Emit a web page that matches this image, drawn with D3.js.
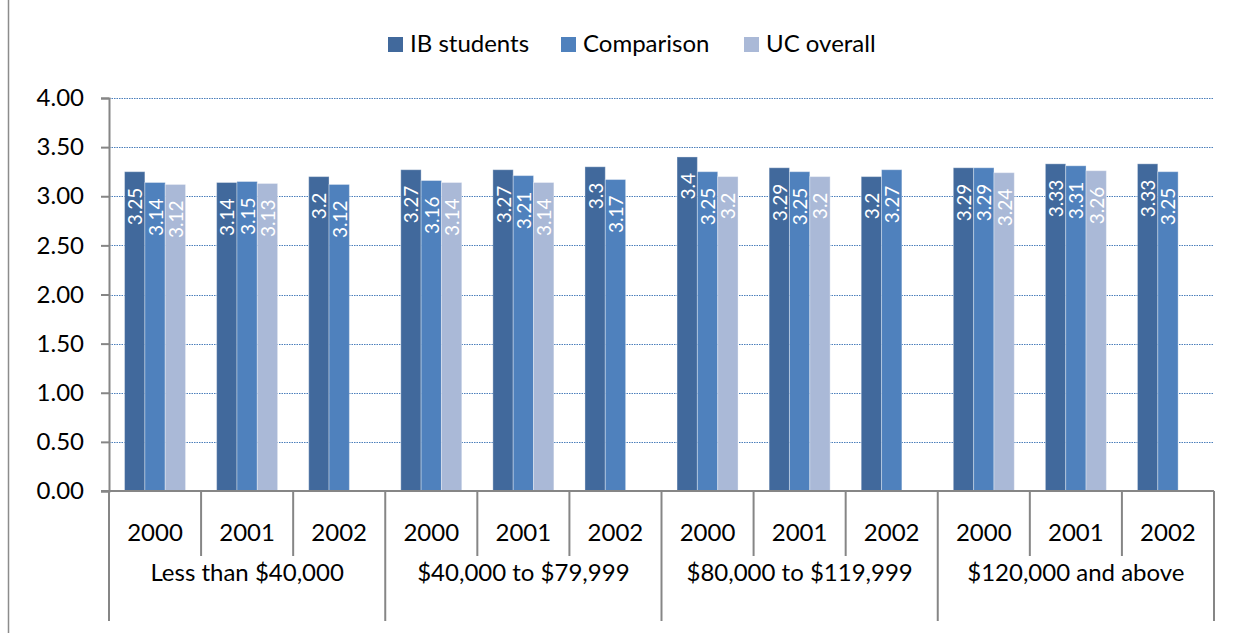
<!DOCTYPE html>
<html><head><meta charset="utf-8">
<script src="https://cdn.jsdelivr.net/npm/d3@7"></script>
<style>body{margin:0;background:#fff}svg{display:block}text{font-family:Lato,"Open Sans",sans-serif}</style>
</head><body>
<svg id="c" width="1241" height="633"></svg>
<script>
const groups = ["Less than $40,000", "$40,000 to $79,999", "$80,000 to $119,999", "$120,000 and above"];
const years = ["2000", "2001", "2002"];
const seriesNames = ["IB students", "Comparison", "UC overall"];
const ibValues = [3.25, 3.14, 3.2, 3.27, 3.27, 3.3, 3.4, 3.29, 3.2, 3.29, 3.33, 3.33];
const compValues = [3.14, 3.15, 3.12, 3.16, 3.21, 3.17, 3.25, 3.25, 3.27, 3.29, 3.31, 3.25];
const ucValues = [3.12, 3.13, null, 3.14, 3.14, null, 3.2, 3.2, null, 3.24, 3.26, null];
const yTicks = [0, 0.5, 1, 1.5, 2, 2.5, 3, 3.5, 4];
const colors = ["#41699c", "#4f81bd", "#aab9d7"];

const svg = d3.select("#c");
const pLeft = 109, pRight = 1214, pTop = 98, pBottom = 491;
const fs = 24;

const cats = [];
groups.forEach((g, gi) => years.forEach((yr, yi) => cats.push({g, gi, yr, i: gi * 3 + yi})));
const allSeries = [ibValues, compValues, ucValues];

const x = d3.scaleBand().domain(cats.map(c => c.i)).range([pLeft, pRight]).padding(0);
const xs = d3.scaleBand().domain(seriesNames).range([-30.5, 30.5]).padding(0);
const y = d3.scaleLinear().domain([0, 4]).range([pBottom, pTop]);

// frame left line
svg.append("line").attr("x1", 8.5).attr("x2", 8.5).attr("y1", 0).attr("y2", 633)
  .attr("stroke", "#8c8c8c").attr("stroke-width", 1.5);

// gridlines
svg.append("g").selectAll("line").data(yTicks.filter(t => t > 0)).join("line")
  .attr("x1", pLeft).attr("x2", pRight)
  .attr("y1", d => Math.round(y(d)) + 0.5).attr("y2", d => Math.round(y(d)) + 0.5)
  .attr("stroke", "#4a7ebb").attr("stroke-width", 1).attr("stroke-dasharray", "1.5,1");

// y axis
const yAxis = d3.axisLeft(y).tickValues(yTicks).tickFormat(d3.format(".2f")).tickSize(8).tickPadding(17);
const ya = svg.append("g").attr("transform", `translate(${pLeft},0)`).call(yAxis);
ya.select(".domain").attr("stroke", "#868686").attr("stroke-width", 2);
ya.selectAll(".tick line").attr("stroke", "#868686").attr("stroke-width", 2);
ya.selectAll(".tick text").attr("font-size", fs).attr("fill", "#000").attr("font-family", "Lato");

// bars
const barData = [];
cats.forEach(c => allSeries.forEach((arr, si) => {
  if (arr[c.i] != null) barData.push({c, si, v: arr[c.i]});
}));
const bars = svg.append("g");
bars.selectAll("rect").data(barData).join("rect")
  .attr("x", d => x(d.c.i) + x.bandwidth() / 2 + xs(seriesNames[d.si]))
  .attr("width", xs.bandwidth())
  .attr("y", d => y(d.v))
  .attr("height", d => y(0) - y(d.v))
  .attr("fill", d => colors[d.si])
  .attr("stroke", "rgba(255,255,255,0.35)").attr("stroke-width", 1);

// labels
svg.append("g").selectAll("text").data(barData).join("text")
  .attr("transform", d => {
    const cx = x(d.c.i) + x.bandwidth() / 2 + xs(seriesNames[d.si]) + xs.bandwidth() / 2;
    return `translate(${cx},${y(d.v) + 16}) rotate(-90)`;
  })
  .attr("text-anchor", "end").attr("dominant-baseline", "central")
  .attr("fill", "#fff").attr("font-size", 19)
  .text(d => String(d.v));

// x axis line
svg.append("line").attr("x1", pLeft - 8).attr("x2", pRight).attr("y1", pBottom).attr("y2", pBottom)
  .attr("stroke", "#868686").attr("stroke-width", 2);

// category separators
const bounds = d3.range(13);
svg.append("g").selectAll("line").data(bounds).join("line")
  .attr("x1", d => d < 12 ? x(d) : pRight).attr("x2", d => d < 12 ? x(d) : pRight)
  .attr("y1", pBottom).attr("y2", d => d % 3 === 0 ? 621 : 556)
  .attr("stroke", "#868686").attr("stroke-width", 2);

// year labels
svg.append("g").selectAll("text").data(cats).join("text")
  .attr("x", d => x(d.i) + x.bandwidth() / 2).attr("y", 541)
  .attr("text-anchor", "middle").attr("font-size", fs).attr("fill", "#000")
  .text(d => d.yr);

// group labels
svg.append("g").selectAll("text").data(groups).join("text")
  .attr("x", (d, i) => x(i * 3) + x.bandwidth() * 1.5).attr("y", 581)
  .attr("text-anchor", "middle").attr("font-size", fs).attr("fill", "#000")
  .text(d => d);

// legend
const legX = [388, 561, 744];
const leg = svg.append("g");
seriesNames.forEach((s, i) => {
  leg.append("rect").attr("x", legX[i]).attr("y", 37).attr("width", 15).attr("height", 15).attr("fill", colors[i]);
  leg.append("text").attr("x", legX[i] + 22).attr("y", 52).attr("font-size", fs).attr("fill", "#000").text(s);
});
</script>
</body></html>
